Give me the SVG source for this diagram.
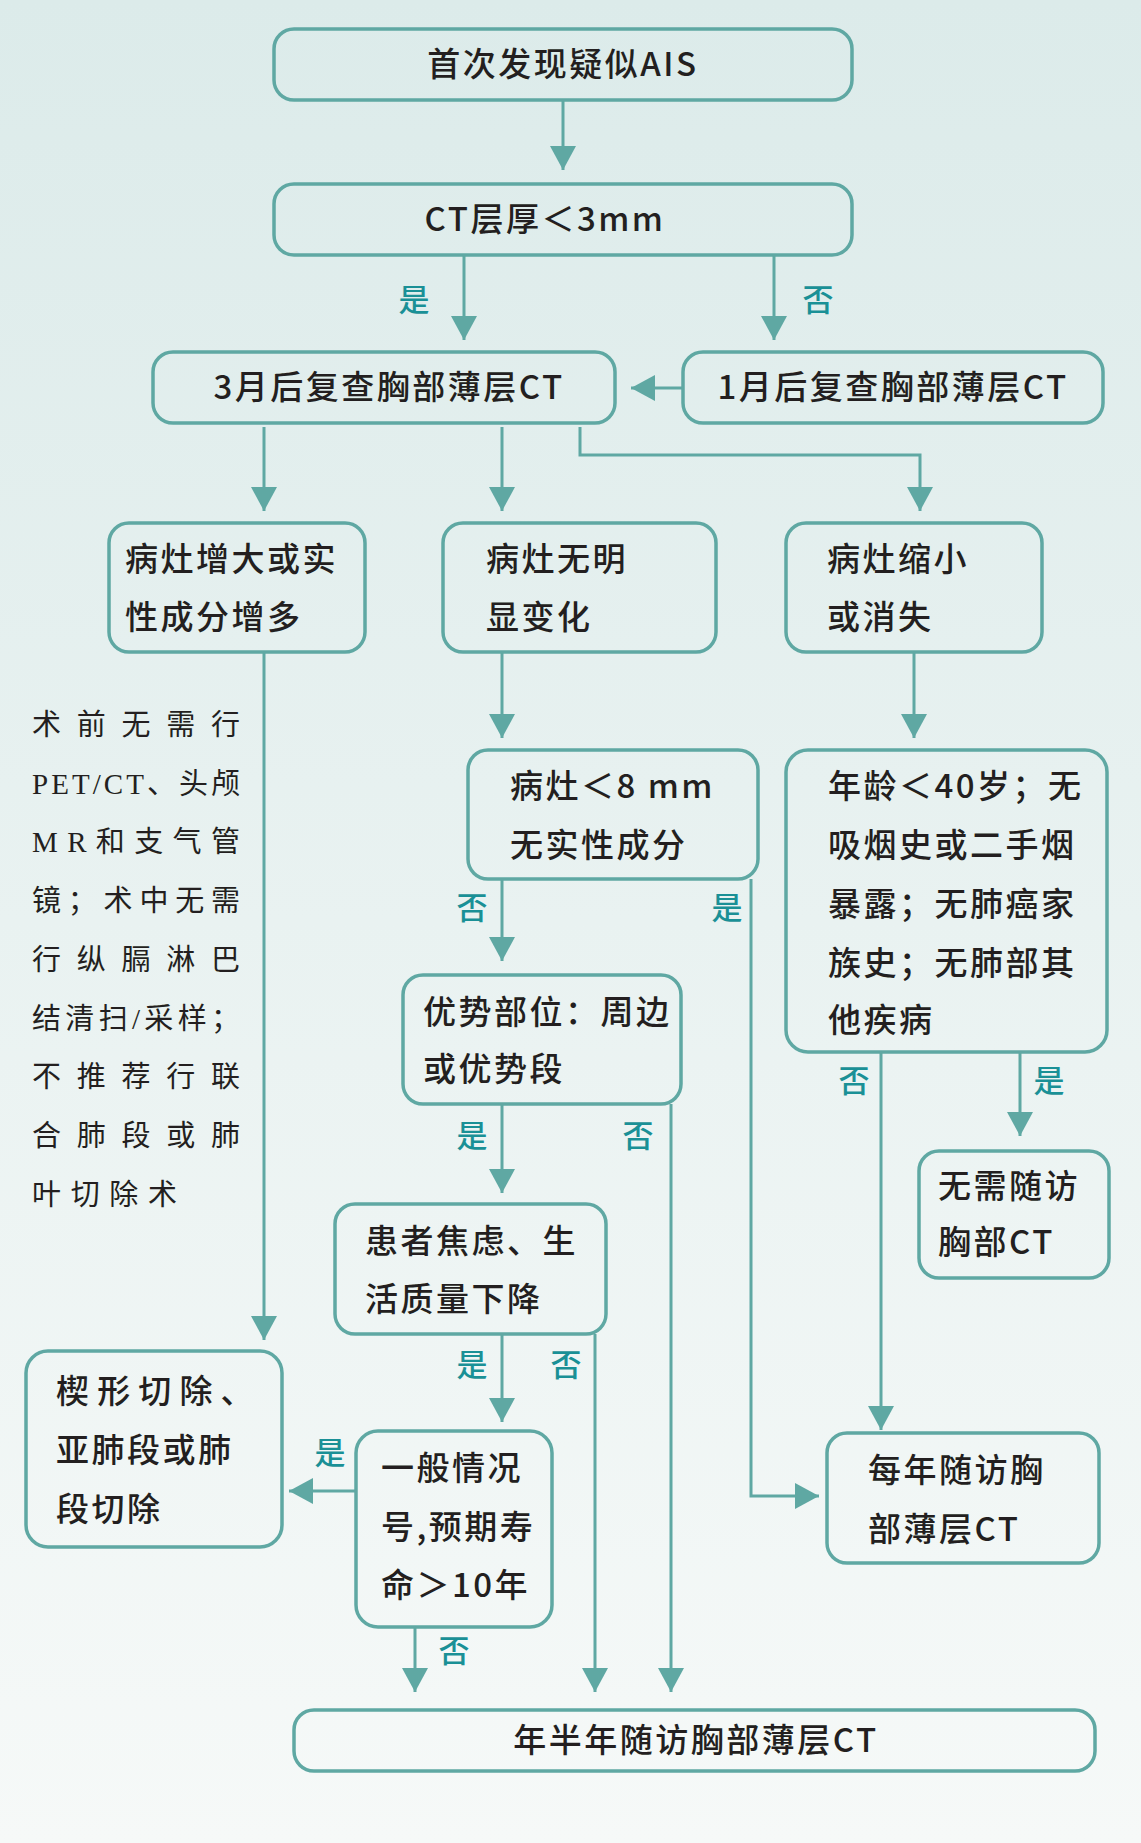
<svg xmlns="http://www.w3.org/2000/svg" width="1141" height="1843" viewBox="0 0 1141 1843">
<defs>
<linearGradient id="bg" x1="0" y1="0" x2="0" y2="1">
<stop offset="0" stop-color="#dcebea"/><stop offset="1" stop-color="#f6f9f8"/>
</linearGradient>
<marker id="ah" markerUnits="userSpaceOnUse" markerWidth="24" markerHeight="26" refX="24" refY="13" orient="auto">
<path d="M0,0 L24,13 L0,26 Z" fill="#5fa8a3"/>
</marker>
<style>
.box{fill:none;stroke:#5fa8a3;stroke-width:3.5}
.t{font-family:"Noto Sans CJK SC","Liberation Sans",sans-serif;font-size:33px;font-weight:500;fill:#231f20;letter-spacing:2.5px}
.c{text-anchor:middle}
.l{font-family:"Noto Sans CJK SC","Liberation Sans",sans-serif;font-size:31px;font-weight:500;fill:#1a9096}
.s{font-family:"Liberation Serif","Noto Sans CJK SC",serif;font-size:29px;fill:#231f20}
.e{fill:none;stroke:#5fa8a3;stroke-width:3;marker-end:url(#ah)}
</style>
</defs>
<rect width="1141" height="1843" fill="url(#bg)"/>
<g id="connectors">
<path class="e" d="M563,100 V170"/>
<path class="e" d="M464,255 V340"/>
<path class="e" d="M774,255 V340"/>
<path class="e" d="M683,388 H631"/>
<path class="e" d="M264,427 V511"/>
<path class="e" d="M502,427 V511"/>
<path class="e" d="M580,427 V455 H920 V511"/>
<path class="e" d="M264,652 V1340"/>
<path class="e" d="M502,652 V738"/>
<path class="e" d="M914,652 V738"/>
<path class="e" d="M502,879 V961"/>
<path class="e" d="M751,879 V1496 H819"/>
<path class="e" d="M502,1104 V1193"/>
<path class="e" d="M671,1104 V1692"/>
<path class="e" d="M881,1052 V1430"/>
<path class="e" d="M1020,1052 V1136"/>
<path class="e" d="M502,1334 V1422"/>
<path class="e" d="M595,1334 V1692"/>
<path class="e" d="M356,1491 H289"/>
<path class="e" d="M415,1627 V1692"/>
<text class="l" x="414" y="311" text-anchor="middle">是</text>
<text class="l" x="818" y="311" text-anchor="middle">否</text>
<text class="l" x="472" y="919" text-anchor="middle">否</text>
<text class="l" x="727" y="919" text-anchor="middle">是</text>
<text class="l" x="472" y="1147" text-anchor="middle">是</text>
<text class="l" x="638" y="1147" text-anchor="middle">否</text>
<text class="l" x="854" y="1092" text-anchor="middle">否</text>
<text class="l" x="1049" y="1092" text-anchor="middle">是</text>
<text class="l" x="472" y="1376" text-anchor="middle">是</text>
<text class="l" x="566" y="1376" text-anchor="middle">否</text>
<text class="l" x="330" y="1464" text-anchor="middle">是</text>
<text class="l" x="454" y="1662" text-anchor="middle">否</text>
</g>
<g id="n1"><rect class="box" x="274" y="29" width="578" height="71" rx="20"/><text class="t c" x="563" y="76">首次发现疑似AIS</text></g>
<g id="n2"><rect class="box" x="274" y="184" width="578" height="71" rx="20"/><text class="t c" x="545" y="231">CT层厚＜3mm</text></g>
<g id="n3"><rect class="box" x="153" y="352" width="462" height="71" rx="20"/><text class="t c" x="389" y="399">3月后复查胸部薄层CT</text></g>
<g id="n4"><rect class="box" x="683" y="352" width="420" height="71" rx="20"/><text class="t c" x="893" y="399">1月后复查胸部薄层CT</text></g>
<g id="n5"><rect class="box" x="109" y="523" width="256" height="129" rx="20"/><text class="t" x="125" y="571">病灶增大或实</text><text class="t" x="125" y="629">性成分增多</text></g>
<g id="n6"><rect class="box" x="443" y="523" width="273" height="129" rx="20"/><text class="t" x="486" y="571">病灶无明</text><text class="t" x="486" y="629">显变化</text></g>
<g id="n7"><rect class="box" x="786" y="523" width="256" height="129" rx="20"/><text class="t" x="827" y="571">病灶缩小</text><text class="t" x="827" y="629">或消失</text></g>
<g id="note">
<text class="s" x="32" y="735" textLength="208" lengthAdjust="spacing">术前无需行</text>
<text class="s" x="32" y="794" textLength="208" lengthAdjust="spacing">PET/CT、头颅</text>
<text class="s" x="32" y="852" textLength="208" lengthAdjust="spacing">MR和支气管</text>
<text class="s" x="32" y="911" textLength="208" lengthAdjust="spacing">镜；术中无需</text>
<text class="s" x="32" y="970" textLength="208" lengthAdjust="spacing">行纵膈淋巴</text>
<text class="s" x="32" y="1029" textLength="208" lengthAdjust="spacing">结清扫/采样；</text>
<text class="s" x="32" y="1087" textLength="208" lengthAdjust="spacing">不推荐行联</text>
<text class="s" x="32" y="1146" textLength="208" lengthAdjust="spacing">合肺段或肺</text>
<text class="s" x="32" y="1205" textLength="145" lengthAdjust="spacing">叶切除术</text>
</g>
<g id="n8"><rect class="box" x="468" y="750" width="290" height="129" rx="20"/><text class="t" x="510" y="798">病灶＜8 mm</text><text class="t" x="510" y="857">无实性成分</text></g>
<g id="n10"><rect class="box" x="786" y="750" width="321" height="302" rx="22"/>
<text class="t" x="828" y="798">年龄＜40岁；无</text><text class="t" x="828" y="857">吸烟史或二手烟</text><text class="t" x="828" y="916">暴露；无肺癌家</text><text class="t" x="828" y="975">族史；无肺部其</text><text class="t" x="828" y="1032">他疾病</text></g>
<g id="n11"><rect class="box" x="403" y="975" width="278" height="129" rx="20"/><text class="t" x="423" y="1024">优势部位：周边</text><text class="t" x="423" y="1081">或优势段</text></g>
<g id="n12"><rect class="box" x="919" y="1151" width="190" height="127" rx="20"/><text class="t" x="938" y="1198">无需随访</text><text class="t" x="938" y="1254">胸部CT</text></g>
<g id="n14"><rect class="box" x="335" y="1204" width="271" height="130" rx="20"/><text class="t" x="365" y="1253">患者焦虑、生</text><text class="t" x="365" y="1311">活质量下降</text></g>
<g id="n9"><rect class="box" x="26" y="1351" width="256" height="196" rx="22"/><text class="t" x="56" y="1403" textLength="200" lengthAdjust="spacing">楔形切除、</text><text class="t" x="56" y="1462">亚肺段或肺</text><text class="t" x="56" y="1521">段切除</text></g>
<g id="n15"><rect class="box" x="356" y="1431" width="196" height="196" rx="22"/><text class="t" x="381" y="1480">一般情况</text><text class="t" x="381" y="1539">号,预期寿</text><text class="t" x="381" y="1597">命＞10年</text></g>
<g id="n13"><rect class="box" x="827" y="1433" width="272" height="130" rx="20"/><text class="t" x="868" y="1482">每年随访胸</text><text class="t" x="868" y="1541">部薄层CT</text></g>
<g id="n16"><rect class="box" x="294" y="1710" width="801" height="61" rx="20"/><text class="t c" x="696" y="1752">年半年随访胸部薄层CT</text></g>
</svg>
